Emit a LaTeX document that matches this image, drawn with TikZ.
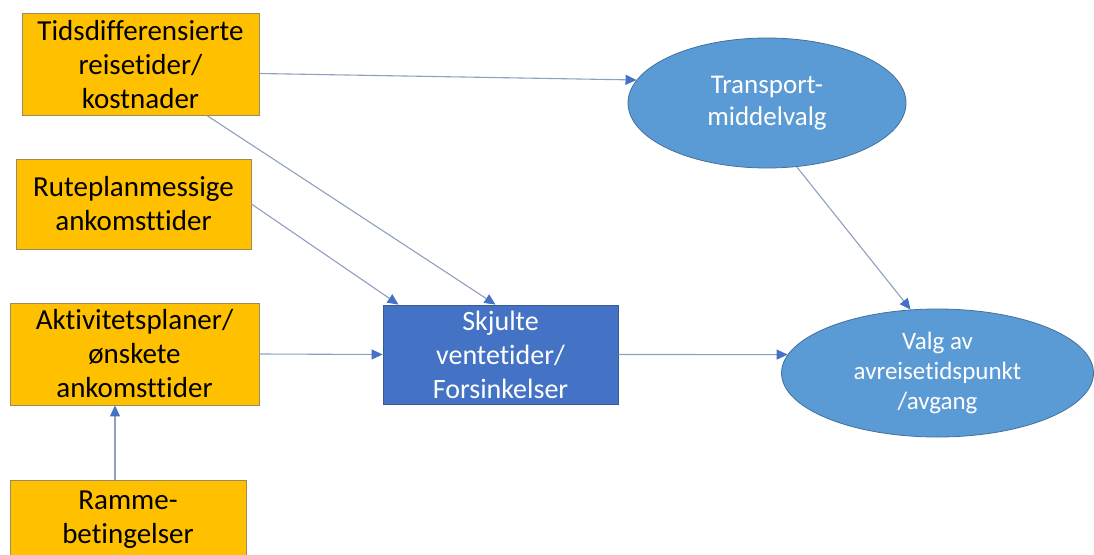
\documentclass[tikz,border=0pt]{standalone}
\usepackage{fontspec}
\setmainfont{Carlito}[Ligatures=CommonOff]
\usetikzlibrary{arrows.meta,shapes.geometric,calc}
\definecolor{boxorange}{HTML}{FFC000}
\definecolor{boxedge}{HTML}{9C8A5A}
\definecolor{cbfill}{HTML}{4472C4}
\definecolor{cbedge}{HTML}{3A5A94}
\definecolor{elfill}{HTML}{5B9BD5}
\definecolor{eledge}{HTML}{41719C}
\definecolor{linegray}{HTML}{8EA0C0}
\definecolor{tipblue}{HTML}{4472C4}
\tikzset{
  obox/.style={draw=boxedge, line width=0.8pt, fill=boxorange, rectangle, inner sep=0pt,
    align=center, text=black, font=\fontsize{29}{34}\selectfont},
  bbox/.style={draw=cbedge, line width=0.8pt, fill=cbfill, rectangle, inner sep=0pt,
    align=center, text=white, font=\fontsize{28}{34}\selectfont},
  ell/.style={draw=eledge, line width=0.8pt, fill=elfill, ellipse, inner sep=0pt,
    align=center, text=white},
  conn/.style={draw=linegray, line width=1.1pt, -{Triangle[length=11pt,width=10pt,color=tipblue]}}
}
\begin{document}
\begin{tikzpicture}[x=1pt,y=-1pt]
\useasboundingbox (0,0) rectangle (1094,554);
\clip (0,0) rectangle (1094,554);
\fill[white] (0,0) rectangle (1094,554);
\node[obox, minimum width=237pt, minimum height=102pt] (b1) at (140.5,64.5)
  {Tidsdifferensierte\\reisetider/\\kostnader};
\node[obox, minimum width=235pt, minimum height=90pt] (b2) at (133.5,204)
  {Ruteplanmessige\\ankomsttider};
\node[obox, minimum width=249pt, minimum height=102pt] (b3) at (134.5,354)
  {Aktivitetsplaner/\\ønskete\\ankomsttider};
\node[obox, minimum width=236pt, minimum height=80pt] (b4) at (128,520)
  {Ramme-\\betingelser};
\node[bbox, minimum width=235pt, minimum height=99pt] (cb) at (500.5,354.5)
  {Skjulte\\ventetider/\\Forsinkelser};
\node[ell, minimum width=278pt, minimum height=130pt, font=\fontsize{27}{32}\selectfont] (e1) at (767,103)
  {Transport-\\middelvalg};
\node[ell, minimum width=312pt, minimum height=128pt, font=\fontsize{25}{30}\selectfont] (e2) at (937.5,373)
  {Valg av\\avreisetidspunkt\\/avgang};
\draw[conn] ([yshift=-9pt]b1.east) -- (e1.170);
\draw[conn] ([xshift=67pt]b1.south) -- ([xshift=-5pt]cb.north);
\draw[conn] (b2.east) -- ([xshift=-102pt]cb.north);
\draw[conn] (b3.east) -- (cb.west);
\draw[conn] (cb.east) -- (e2.173);
\draw[conn] (e1.-65) -- (e2.113.4);
\draw[conn] ([xshift=-13pt]b4.north) -- ([xshift=-13pt]b4.north |- b3.south);
\end{tikzpicture}
\end{document}
